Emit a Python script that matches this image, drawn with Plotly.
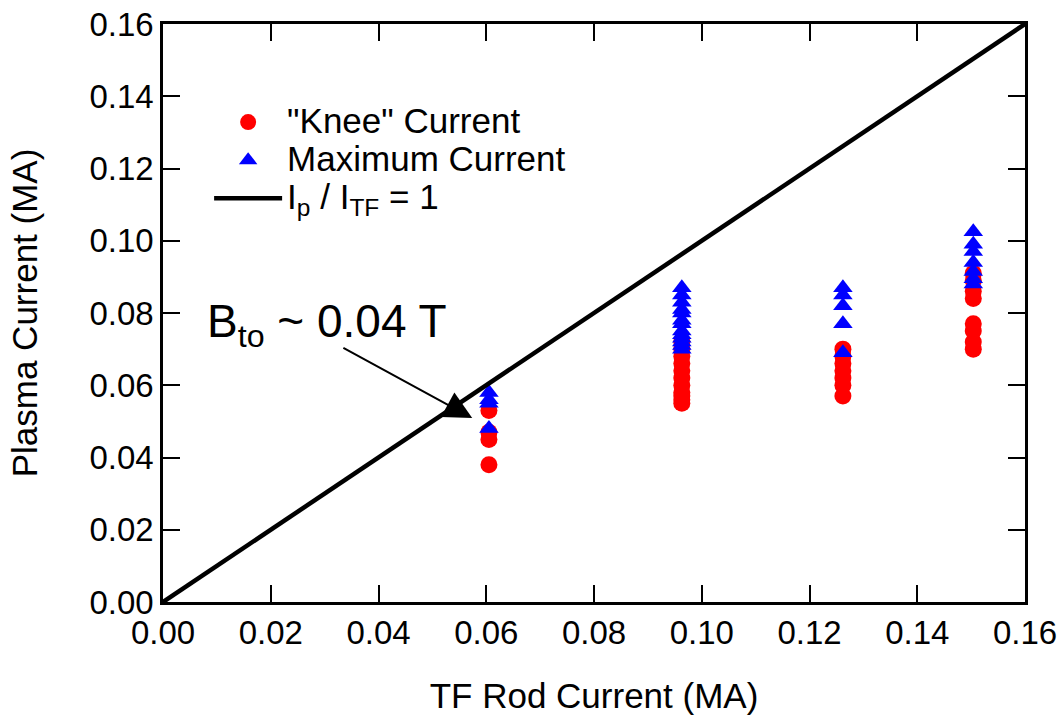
import plotly.graph_objects as go

# TF rod current settings (MA) and measured plasma currents (MA)
knee_x = [0.0605] * 4 + [0.0963] * 11 + [0.1262] * 7 + [0.1504] * 8
knee_y = [0.053, 0.047, 0.045, 0.038,
          0.072, 0.070, 0.068, 0.066, 0.064, 0.062, 0.060, 0.058, 0.057, 0.056, 0.055,
          0.070, 0.068, 0.066, 0.064, 0.062, 0.060, 0.057,
          0.091, 0.089, 0.086, 0.084, 0.077, 0.075, 0.072, 0.070]

max_x = [0.0605] * 4 + [0.0963] * 13 + [0.1262] * 5 + [0.1504] * 7
max_y = [0.058, 0.056, 0.055, 0.048,
         0.087, 0.085, 0.083, 0.081, 0.080, 0.078, 0.077, 0.075, 0.074, 0.073, 0.072, 0.071, 0.070,
         0.087, 0.085, 0.082, 0.077, 0.069,
         0.1025, 0.099, 0.097, 0.094, 0.0915, 0.0895, 0.088]

unity_x = [0.0, 0.16]
unity_y = [0.0, 0.16]

tick_vals = [0.00, 0.02, 0.04, 0.06, 0.08, 0.10, 0.12, 0.14, 0.16]
tick_text = [f"{v:.2f}" for v in tick_vals]


def big(label):
    return f"<span style='font-size:35px'>{label}</span>"


fig = go.Figure()

fig.add_trace(go.Scatter(
    x=knee_x, y=knee_y, mode="markers", name=big('"Knee" Current'),
    marker=dict(symbol="circle", size=17, color="#ff0000", line=dict(width=0)),
    legendrank=1,
))
fig.add_trace(go.Scatter(
    x=max_x, y=max_y, mode="markers", name=big("Maximum Current"),
    marker=dict(symbol="triangle-up", size=17, color="#0000ff", line=dict(width=0)),
    legendrank=2,
))
fig.add_trace(go.Scatter(
    x=unity_x, y=unity_y, mode="lines", name=big("I<sub>p</sub> / I<sub>TF</sub> = 1"),
    line=dict(color="black", width=4.5),
    legendrank=3,
))

axis_common = dict(
    range=[0, 0.16], tickvals=tick_vals, ticktext=tick_text,
    ticks="inside", ticklen=17, tickwidth=2, tickcolor="black",
    showline=True, linewidth=2.5, linecolor="black", mirror="allticks",
    showgrid=False, zeroline=False, automargin=False,
    tickfont=dict(size=33, color="black"),
)

fig.update_xaxes(**axis_common,
                 title=dict(text="TF Rod Current (MA)", font=dict(size=35, color="black"), standoff=34))
fig.update_yaxes(**axis_common,
                 title=dict(text="Plasma Current (MA)", font=dict(size=35, color="black"), standoff=42))

# Toroidal field label with pointer to the unity line
fig.add_annotation(
    x=0.0574, y=0.0509, xref="x", yref="y",
    ax=0.0332, ay=0.0706, axref="x", ayref="y",
    text="", showarrow=True, arrowhead=2, arrowsize=2.8, arrowwidth=2, arrowcolor="black",
)
fig.add_annotation(
    x=0.0304, y=0.0767, xref="x", yref="y",
    text="B<sub>to</sub> ~ 0.04 T", showarrow=False,
    font=dict(size=46, color="black"),
)

fig.update_layout(
    width=1064, height=718,
    margin=dict(l=163, r=39, t=24, b=116),
    paper_bgcolor="white", plot_bgcolor="white",
    font=dict(family="Liberation Sans, Arial, sans-serif", color="black"),
    legend=dict(
        x=0.0535, y=0.872, xanchor="left", yanchor="top",
        bgcolor="rgba(0,0,0,0)", font=dict(size=27, color="black"),
        itemwidth=68, tracegroupgap=0,
    ),
)

fig.write_html("out.html")
